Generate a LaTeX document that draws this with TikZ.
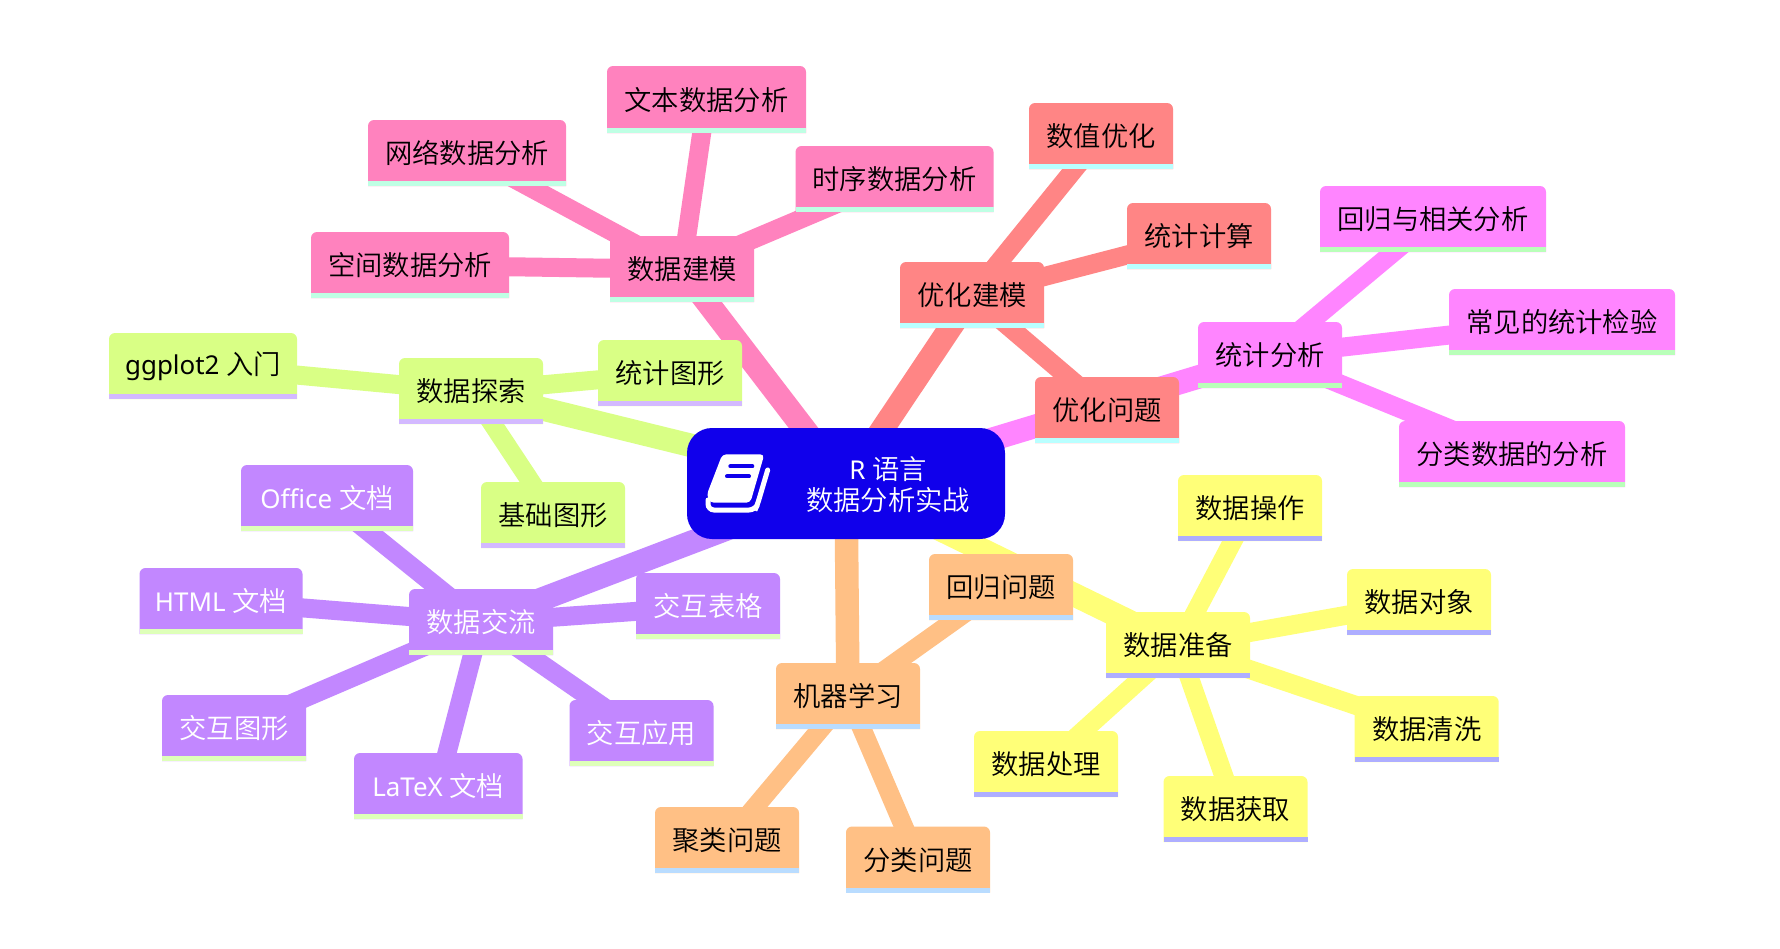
\documentclass[tikz,border=0pt]{standalone}
\usepackage{fontspec}
\setmainfont{Noto Sans CJK SC DemiLight}
\newfontfamily\lat[Scale=0.95,WordSpace=1.0]{Noto Sans}
\pgfdeclarelayer{edges}
\pgfsetlayers{edges,main}
\definecolor{rootc}{HTML}{1000EB}
\definecolor{pinkc}{HTML}{FF82BE}\definecolor{pinks}{HTML}{BFFFE4}
\definecolor{redc}{HTML}{FF8585}\definecolor{reds}{HTML}{B9FFFF}
\definecolor{magc}{HTML}{FF85FF}\definecolor{mags}{HTML}{B9FFB9}
\definecolor{grec}{HTML}{D9FF85}\definecolor{gres}{HTML}{D3B9FF}
\definecolor{purc}{HTML}{C287FF}\definecolor{purs}{HTML}{DEFFB9}
\definecolor{orac}{HTML}{FFC085}\definecolor{oras}{HTML}{B9DCFF}
\definecolor{yelc}{HTML}{FFFF78}\definecolor{yels}{HTML}{AEAEFF}
\tikzset{
  lbl/.style={inner sep=0pt,font=\fontsize{27.3}{31}\selectfont,align=center},
  edgeA/.style={line width=23.5pt},
  edgeB/.style={line width=19pt},
}
% name, x1, y1, x2, y2, branch prefix, text colour, text
\newcommand\mmbox[8]{%
  \fill[#6c] (#2,#5) [rounded corners=6pt] -- (#2,#3) -- (#4,#3) [sharp corners] -- (#4,#5) -- cycle;
  \fill[#6s] (#2,#5-5) rectangle (#4,#5);
  \node[lbl,text=#7] (#1) at ({(#2+#4)/2},{(#3+#5)/2+0.3}) {#8};
}
\begin{document}
\begin{tikzpicture}[x=1pt,y=-1pt]
\useasboundingbox (0,0) rectangle (1780,948);
\begin{pgfonlayer}{edges}
\fill[white] (0,0) rectangle (1780,948);
\end{pgfonlayer}
% root
\fill[rootc,rounded corners=25pt] (687,428) rectangle (1005,539);
\coordinate (root) at (846,483.5);
\node[lbl,text=white] (rootlabel) at (888,484.5) {{\lat R }语言\\数据分析实战};
% icon
\begin{scope}[shift={(695,445)},x=0.3333pt,y=-0.3333pt]
\fill[white,rounded corners=4pt] (82,28) -- (208,28) -- (166,173) -- (45,173) -- (35,150) -- cycle;
\draw[white,line width=5pt,rounded corners=6pt,line cap=round] (39,165) -- (39,195) -- (180,195) -- (187,180) -- (218,75);
\draw[rootc,line width=4pt,line cap=round] (106,64) -- (172,64);
\draw[rootc,line width=4pt,line cap=round] (96,94) -- (162,94);
\end{scope}
% pink
\mmbox{jm}{610}{236}{754}{302}{pink}{black}{数据建模}
\mmbox{wb}{607}{66}{806}{133}{pink}{black}{文本数据分析}
\mmbox{wl}{368}{120}{566}{186}{pink}{black}{网络数据分析}
\mmbox{sx}{795.5}{146}{993.5}{212}{pink}{black}{时序数据分析}
\mmbox{kj}{311}{232}{509}{298}{pink}{black}{空间数据分析}
% red
\mmbox{yh}{900}{262}{1044}{328}{red}{black}{优化建模}
\mmbox{sz}{1029}{103}{1173}{169}{red}{black}{数值优化}
\mmbox{tj}{1127}{203}{1271}{269}{red}{black}{统计计算}
\mmbox{yw}{1035}{377}{1179}{443}{red}{black}{优化问题}
% magenta
\mmbox{tf}{1198}{322}{1342}{388}{mag}{black}{统计分析}
\mmbox{hg}{1320}{186}{1546}{252}{mag}{black}{回归与相关分析}
\mmbox{cj}{1449}{289}{1675}{355}{mag}{black}{常见的统计检验}
\mmbox{fl}{1399}{421}{1625}{487}{mag}{black}{分类数据的分析}
% green
\mmbox{ts}{399}{358}{543}{424}{gre}{black}{数据探索}
\mmbox{gg}{109}{333}{297}{399}{gre}{black}{{\lat ggplot2 }入门}
\mmbox{tx}{598}{340}{742}{406}{gre}{black}{统计图形}
\mmbox{jc}{481}{482}{625}{548}{gre}{black}{基础图形}
% purple
\mmbox{jl}{409}{589}{553}{655}{pur}{white}{数据交流}
\mmbox{of}{241}{465}{413}{531}{pur}{white}{{\lat Office }文档}
\mmbox{ht}{139.5}{568}{302.5}{634}{pur}{white}{{\lat HTML }文档}
\mmbox{bg}{636}{573}{780}{639}{pur}{white}{交互表格}
\mmbox{jt}{162}{695}{306}{761}{pur}{white}{交互图形}
\mmbox{la}{354}{753}{522.5}{819}{pur}{white}{{\lat LaTeX }文档}
\mmbox{yy}{569.5}{700}{713.5}{766}{pur}{white}{交互应用}
% orange
\mmbox{ml}{776}{663}{920}{729}{ora}{black}{机器学习}
\mmbox{hw}{929}{554}{1073}{620}{ora}{black}{回归问题}
\mmbox{jw}{655}{807}{799}{873}{ora}{black}{聚类问题}
\mmbox{fw}{846}{826.5}{990}{892.5}{ora}{black}{分类问题}
% yellow
\mmbox{zb}{1106}{612}{1250}{678}{yel}{black}{数据准备}
\mmbox{cz}{1178}{475}{1322}{541}{yel}{black}{数据操作}
\mmbox{dx}{1347}{569}{1491}{635}{yel}{black}{数据对象}
\mmbox{qx}{1354.7}{696}{1498.7}{762}{yel}{black}{数据清洗}
\mmbox{hq}{1163.5}{776}{1307.5}{842}{yel}{black}{数据获取}
\mmbox{cl}{974}{731}{1118}{797}{yel}{black}{数据处理}
\begin{pgfonlayer}{edges}
\draw[edgeA,pinkc] (root) -- (jm.center);
\draw[edgeB,pinkc] (jm.center) -- (wb.center);
\draw[edgeB,pinkc] (jm.center) -- (wl.center);
\draw[edgeB,pinkc] (jm.center) -- (sx.center);
\draw[edgeB,pinkc] (jm.center) -- (kj.center);
\draw[edgeA,redc] (root) -- (yh.center);
\draw[edgeB,redc] (yh.center) -- (sz.center);
\draw[edgeB,redc] (yh.center) -- (tj.center);
\draw[edgeB,redc] (yh.center) -- (yw.center);
\draw[edgeA,magc] (root) -- (tf.center);
\draw[edgeB,magc] (tf.center) -- (hg.center);
\draw[edgeB,magc] (tf.center) -- (cj.center);
\draw[edgeB,magc] (tf.center) -- (fl.center);
\draw[edgeA,grec] (root) -- (ts.center);
\draw[edgeB,grec] (ts.center) -- (gg.center);
\draw[edgeB,grec] (ts.center) -- (tx.center);
\draw[edgeB,grec] (ts.center) -- (jc.center);
\draw[edgeA,purc] (root) -- (jl.center);
\draw[edgeB,purc] (jl.center) -- (of.center);
\draw[edgeB,purc] (jl.center) -- (ht.center);
\draw[edgeB,purc] (jl.center) -- (bg.center);
\draw[edgeB,purc] (jl.center) -- (jt.center);
\draw[edgeB,purc] (jl.center) -- (la.center);
\draw[edgeB,purc] (jl.center) -- (yy.center);
\draw[edgeA,orac] (root) -- (ml.center);
\draw[edgeB,orac] (ml.center) -- (hw.center);
\draw[edgeB,orac] (ml.center) -- (jw.center);
\draw[edgeB,orac] (ml.center) -- (fw.center);
\draw[edgeA,yelc] (root) -- (zb.center);
\draw[edgeB,yelc] (zb.center) -- (cz.center);
\draw[edgeB,yelc] (zb.center) -- (dx.center);
\draw[edgeB,yelc] (zb.center) -- (qx.center);
\draw[edgeB,yelc] (zb.center) -- (hq.center);
\draw[edgeB,yelc] (zb.center) -- (cl.center);
\end{pgfonlayer}
\end{tikzpicture}
\end{document}
